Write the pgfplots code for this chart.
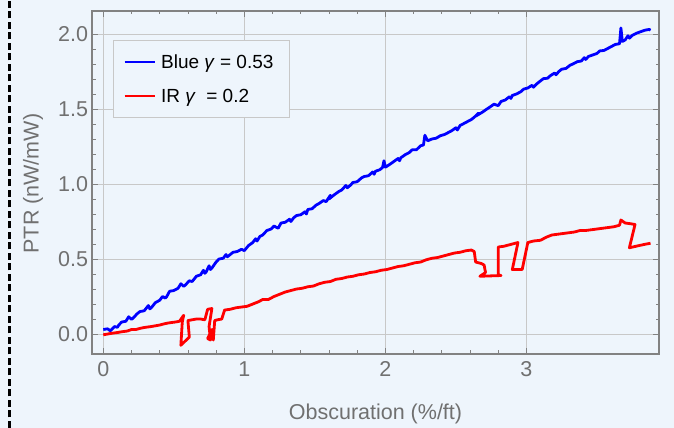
\documentclass[border=0pt]{standalone}
\usepackage{pgfplots}
\pgfplotsset{compat=1.18}
\usepackage{fontspec}
\setmainfont{Liberation Sans}
\definecolor{bg}{RGB}{238,245,252}
\definecolor{framegray}{RGB}{130,130,130}
\definecolor{gridgray}{RGB}{200,200,200}
\definecolor{labgray}{RGB}{112,112,112}
\begin{document}
\begin{tikzpicture}
\fill[bg] (0,0) rectangle (674bp,428bp);
\useasboundingbox (0,0) rectangle (674bp,428bp);
\draw[black, line width=2.2bp, dash pattern=on 7bp off 3.5bp] (9.5bp,0) -- (9.5bp,428bp);
\begin{axis}[
  at={(92bp,74bp)}, anchor=south west,
  scale only axis, width=567bp, height=343bp,
  xmin=-0.08, xmax=3.94, ymin=-0.133, ymax=2.153,
  axis background/.style={fill=bg},
  axis line style={draw=framegray, line width=1.2bp},
  tick align=inside,
  major tick length=6bp, minor tick length=3.5bp,
  every tick/.style={draw=framegray, line width=0.8bp},
  xtick={0,1,2,3}, xticklabels={0,1,2,3},
  ytick={0,0.5,1,1.5,2}, yticklabels={0.0,0.5,1.0,1.5,2.0},
  minor x tick num=4, minor y tick num=4,
  grid=major,
  major grid style={draw=gridgray, line width=0.9bp},
  /pgf/number format/assume math mode=true,
  tick label style={font=\fontsize{21.5bp}{24bp}\selectfont, text=labgray},
  xticklabel style={yshift=-4bp},
  yticklabel style={xshift=-0.5bp},
  label style={font=\fontsize{21.5bp}{24bp}\selectfont, text=labgray},
  xlabel={Obscuration (\%/ft)},
  ylabel={PTR (nW/mW)},
  xlabel style={at={(axis description cs:0.5,-0.175)}, anchor=center},
  ylabel style={at={(axis description cs:-0.104,0.497)}, anchor=center, rotate=0},
  legend style={at={(0.037,0.915)}, anchor=north west, draw=gridgray, fill=bg,
    line width=0.9bp,
    font=\fontsize{19bp}{22bp}\selectfont, text=black,
    inner xsep=10bp, inner ysep=12bp, row sep=15bp,
    nodes={inner xsep=5.5bp}},
  legend cell align=left,
  legend image code/.code={\draw[#1, line width=2.2bp] (0bp,0bp) -- (30bp,0bp);},
]
\addplot[blue, line width=2.8bp, line join=round] coordinates {
(0.00,0.030) (0.03,0.035) (0.05,0.022) (0.08,0.050) (0.10,0.045) (0.11,0.060) (0.13,0.080)
(0.16,0.085) (0.18,0.115) (0.20,0.098) (0.21,0.105) (0.24,0.135) (0.26,0.150) (0.29,0.155)
(0.32,0.190) (0.33,0.168) (0.34,0.175) (0.37,0.210) (0.40,0.225) (0.42,0.250) (0.44,0.240) (0.45,0.250)
(0.47,0.285) (0.50,0.290) (0.53,0.305) (0.55,0.335) (0.57,0.318) (0.58,0.325) (0.61,0.355)
(0.63,0.350) (0.66,0.385) (0.69,0.395) (0.71,0.425) (0.72,0.405) (0.73,0.415) (0.75,0.455)
(0.76,0.430) (0.77,0.440) (0.80,0.480) (0.82,0.500) (0.85,0.505) (0.87,0.530) (0.88,0.515) (0.90,0.530)
(0.92,0.545) (0.95,0.550) (0.98,0.565) (1.00,0.556) (1.03,0.590) (1.06,0.610)
(1.08,0.635) (1.09,0.620) (1.11,0.650) (1.13,0.660) (1.16,0.690) (1.19,0.700) (1.21,0.720)
(1.24,0.705) (1.26,0.740) (1.29,0.745) (1.32,0.765) (1.33,0.750) (1.35,0.775) (1.37,0.790)
(1.40,0.795) (1.43,0.815) (1.44,0.800) (1.45,0.830) (1.48,0.835) (1.51,0.860) (1.53,0.870)
(1.56,0.890) (1.58,0.882) (1.61,0.925) (1.60,0.900) (1.64,0.930) (1.67,0.950)
(1.69,0.960) (1.72,0.990) (1.73,0.975) (1.75,0.990) (1.77,1.010) (1.80,1.015) (1.83,1.040)
(1.85,1.050) (1.88,1.055) (1.91,1.080) (1.92,1.065) (1.93,1.085) (1.96,1.095) (1.98,1.110)
(1.99,1.155) (2.00,1.112) (2.03,1.130) (2.06,1.150) (2.09,1.170) (2.10,1.155) (2.11,1.175)
(2.14,1.195) (2.17,1.210) (2.19,1.228) (2.22,1.228) (2.25,1.255) (2.27,1.260)
(2.28,1.325) (2.30,1.288) (2.33,1.300) (2.36,1.305) (2.39,1.322) (2.42,1.330)
(2.44,1.340) (2.47,1.355) (2.50,1.375) (2.51,1.360) (2.53,1.390) (2.55,1.400) (2.58,1.415)
(2.61,1.430) (2.63,1.445) (2.66,1.472) (2.64,1.452) (2.69,1.480) (2.72,1.500)
(2.74,1.512) (2.77,1.532) (2.80,1.522) (2.82,1.550) (2.85,1.560) (2.88,1.582) (2.89,1.570)
(2.90,1.590) (2.93,1.600) (2.96,1.615) (2.98,1.632) (3.01,1.640) (3.04,1.658) (3.05,1.645)
(3.07,1.665) (3.09,1.680) (3.12,1.702) (3.15,1.705) (3.17,1.722) (3.20,1.740) (3.21,1.728)
(3.23,1.750) (3.25,1.765) (3.28,1.770) (3.31,1.792) (3.33,1.800) (3.36,1.815)
(3.39,1.820) (3.41,1.842) (3.42,1.830) (3.44,1.850) (3.47,1.860) (3.50,1.870) (3.52,1.887)
(3.55,1.890) (3.58,1.905) (3.61,1.920) (3.63,1.930) (3.66,1.935) (3.67,2.040)
(3.68,1.950) (3.70,1.960) (3.72,1.988) (3.73,1.972) (3.75,1.990) (3.78,2.005) (3.81,2.015)
(3.84,2.025) (3.87,2.030) (3.88,2.025)
};
\addlegendentry{Blue \textit{γ} = 0.53}
\addplot[red, line width=2.8bp, line join=round] coordinates {
(0.00,-0.005) (0.03,0.000) (0.06,0.005) (0.10,0.010) (0.13,0.015) (0.17,0.020)
(0.20,0.030) (0.23,0.030) (0.27,0.040) (0.30,0.045) (0.34,0.050) (0.37,0.055)
(0.40,0.060) (0.44,0.070) (0.47,0.075) (0.51,0.080) (0.54,0.085) (0.57,0.125)
(0.56,0.080) (0.55,-0.075) (0.61,-0.020) (0.60,0.090) (0.63,0.095) (0.66,0.100)
(0.69,0.100) (0.72,0.095) (0.74,0.165) (0.77,0.170) (0.75,0.050) (0.76,-0.040)
(0.74,-0.030) (0.77,0.030) (0.78,-0.040) (0.79,0.090) (0.81,0.095) (0.84,0.100)
(0.86,0.160) (0.90,0.165) (0.94,0.175) (0.98,0.180) (1.02,0.185) (1.06,0.200)
(1.10,0.215) (1.13,0.230) (1.17,0.230) (1.21,0.250) (1.25,0.265) (1.29,0.280)
(1.33,0.290) (1.37,0.300) (1.41,0.305) (1.45,0.315) (1.49,0.320) (1.53,0.335)
(1.57,0.345) (1.61,0.350) (1.65,0.365) (1.69,0.370) (1.73,0.380) (1.77,0.385)
(1.81,0.395) (1.85,0.400) (1.89,0.410) (1.93,0.415) (1.97,0.425) (2.01,0.430)
(2.05,0.440) (2.09,0.450) (2.13,0.455) (2.17,0.465) (2.21,0.475) (2.25,0.480)
(2.29,0.495) (2.33,0.505) (2.37,0.510) (2.41,0.520) (2.45,0.530) (2.49,0.540)
(2.53,0.545) (2.57,0.555) (2.61,0.560) (2.63,0.550) (2.64,0.480) (2.68,0.470)
(2.70,0.460) (2.71,0.410) (2.67,0.385) (2.82,0.390) (2.80,0.395) (2.80,0.580)
(2.84,0.585) (2.88,0.595) (2.94,0.610) (2.90,0.430) (2.97,0.430) (3.01,0.610)
(3.05,0.620) (3.10,0.625) (3.14,0.645) (3.18,0.660) (3.22,0.665) (3.26,0.670)
(3.30,0.675) (3.34,0.680) (3.38,0.690) (3.42,0.690) (3.46,0.695) (3.50,0.700)
(3.54,0.705) (3.58,0.710) (3.62,0.715) (3.66,0.725) (3.67,0.760) (3.70,0.740)
(3.74,0.735) (3.77,0.730) (3.73,0.575) (3.80,0.590) (3.85,0.600) (3.88,0.605)
};
\addlegendentry{IR \textit{γ}\ \ = 0.2}
\end{axis}
\end{tikzpicture}
\end{document}
